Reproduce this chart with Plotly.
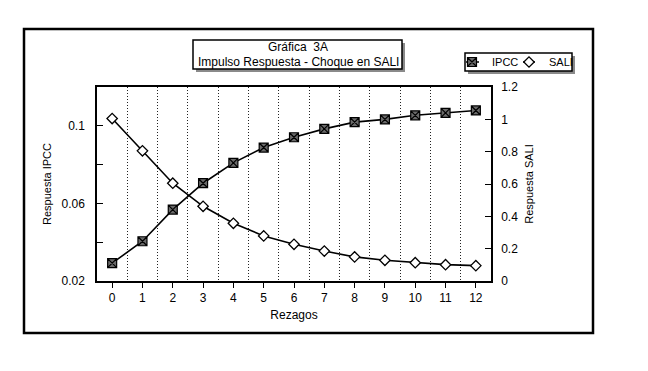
import plotly.graph_objects as go

rezagos = list(range(13))
ipcc = [0.0292, 0.0405, 0.0568, 0.0704, 0.0809, 0.0888, 0.0941, 0.0984,
        0.1019, 0.1033, 0.1054, 0.1067, 0.1079]
sali = [1.005, 0.805, 0.605, 0.462, 0.357, 0.279, 0.227, 0.185,
        0.149, 0.128, 0.113, 0.101, 0.095]

W, H = 648, 371
OFF = 8  # page body margin
# plot area in page pixels
PL, PR, PT, PB = 97, 491, 87, 281


def px(x):
    return (x - PL) / (PR - PL)


def py(y):
    return (PB - y) / (PB - PT)


FONT = "Liberation Sans, Arial, sans-serif"
sq_marker = dict(symbol="square-x", size=9, color="#6a6a6a",
                 line=dict(color="black", width=1.2))
dm_marker = dict(symbol="diamond", size=8, color="white",
                 line=dict(color="black", width=1.3))

fig = go.Figure()
fig.add_trace(go.Scatter(
    x=rezagos, y=ipcc, name="IPCC", mode="lines+markers",
    line=dict(color="black", width=1.6), marker=sq_marker,
    yaxis="y", showlegend=False))
fig.add_trace(go.Scatter(
    x=rezagos, y=sali, name="SALI", mode="lines+markers",
    line=dict(color="black", width=1.6), marker=dm_marker,
    yaxis="y2", showlegend=False))
# legend entries (markers only; short sample lines drawn as shapes)
fig.add_trace(go.Scatter(x=[None], y=[None], name="IPCC", mode="markers",
                         marker=sq_marker, legend="legend"))
fig.add_trace(go.Scatter(x=[None], y=[None], name="SALI", mode="markers",
                         marker=dm_marker, legend="legend2", yaxis="y2"))

LEG_Y = 62
IPCC_MX, SALI_MX = 472, 529

shapes = [
    # outer frame
    dict(type="rect", xref="paper", yref="paper", x0=px(24), x1=px(593),
         y0=py(333), y1=py(29), line=dict(color="black", width=2.5), layer="above"),
    # title shadow + box
    dict(type="rect", xref="paper", yref="paper", x0=px(196), x1=px(405),
         y0=py(72), y1=py(43), fillcolor="#8a8a8a", line=dict(width=0), layer="above"),
    dict(type="rect", xref="paper", yref="paper", x0=px(193), x1=px(402),
         y0=py(69), y1=py(40), fillcolor="white", line=dict(color="black", width=1.5),
         layer="above"),
    # legend shadow + box
    dict(type="rect", xref="paper", yref="paper", x0=px(468), x1=px(575),
         y0=py(74), y1=py(56), fillcolor="#8a8a8a", line=dict(width=0), layer="above"),
    dict(type="rect", xref="paper", yref="paper", x0=px(465), x1=px(572),
         y0=py(71), y1=py(53), fillcolor="white", line=dict(color="black", width=1.5),
         layer="above"),
    # legend sample lines
    dict(type="line", xref="paper", yref="paper", x0=px(IPCC_MX - 6), x1=px(IPCC_MX + 7),
         y0=py(LEG_Y), y1=py(LEG_Y), line=dict(color="black", width=1.5), layer="above"),
    dict(type="line", xref="paper", yref="paper", x0=px(SALI_MX - 6), x1=px(SALI_MX + 6),
         y0=py(LEG_Y), y1=py(LEG_Y), line=dict(color="black", width=1.5), layer="above"),
]

annotations = [
    dict(text="Gráfica  3A", xref="paper", yref="paper", x=px(298), y=py(47),
         showarrow=False, font=dict(family=FONT, size=12, color="black"),
         xanchor="center", yanchor="middle"),
    dict(text="Impulso Respuesta - Choque en SALI", xref="paper", yref="paper",
         x=px(298), y=py(62), showarrow=False,
         font=dict(family=FONT, size=12, color="black"),
         xanchor="center", yanchor="middle"),
]

leg_common = dict(orientation="h", yanchor="middle", xanchor="left",
                  xref="container", yref="container",
                  bgcolor="rgba(0,0,0,0)", borderwidth=0, itemwidth=30,
                  font=dict(family=FONT, size=11, color="black"))

fig.update_layout(
    width=W, height=H,
    margin=dict(l=PL - OFF, r=W - PR + OFF, t=PT - OFF, b=H - PB + OFF,
                autoexpand=False),
    paper_bgcolor="white", plot_bgcolor="white",
    font=dict(family=FONT, size=12, color="black"),
    shapes=shapes, annotations=annotations,
    showlegend=True,
    legend=dict(x=(IPCC_MX - 20 - OFF) / W, y=1 - (LEG_Y - OFF) / H, **leg_common),
    legend2=dict(x=(SALI_MX - 20 - OFF) / W, y=1 - (LEG_Y - OFF) / H, **leg_common),
    xaxis=dict(range=[-0.5, 12.5], tickmode="array", tickvals=rezagos,
               ticks="outside", ticklen=5, tickcolor="black", tickwidth=1,
               showline=True, linecolor="black", linewidth=1.5, mirror=True,
               showgrid=False, zeroline=False,
               minor=dict(tick0=0.5, dtick=1, showgrid=True, gridcolor="#222",
                          griddash="1px,2px", gridwidth=1, ticks=""),
               title=dict(text="Rezagos", font=dict(size=12), standoff=6),
               tickfont=dict(size=12)),
    yaxis=dict(range=[0.02, 0.12], tickmode="array", tickvals=[0.02, 0.06, 0.1],
               ticktext=["0.02", "0.06", "0.1"],
               ticks="inside", ticklen=6, tickcolor="black",
               minor=dict(tickvals=[0.04, 0.08], ticks="inside", ticklen=6, tickcolor="black"),
               showline=True, linecolor="black", linewidth=1.5,
               showgrid=False, zeroline=False, ticklabelstandoff=8,
               title=dict(text="Respuesta IPCC", font=dict(size=11), standoff=8),
               tickfont=dict(size=12)),
    yaxis2=dict(range=[0, 1.2], tickmode="array",
                tickvals=[0, 0.2, 0.4, 0.6, 0.8, 1.0, 1.2],
                ticktext=["0", "0.2", "0.4", "0.6", "0.8", "1", "1.2"],
                overlaying="y", side="right",
                ticks="inside", ticklen=6, tickcolor="black",
                showline=True, linecolor="black", linewidth=1.5,
                showgrid=False, zeroline=False, ticklabelstandoff=6,
                title=dict(text="Respuesta SALI", font=dict(size=11), standoff=8),
                tickfont=dict(size=12)),
)

fig.write_html("out.html")
